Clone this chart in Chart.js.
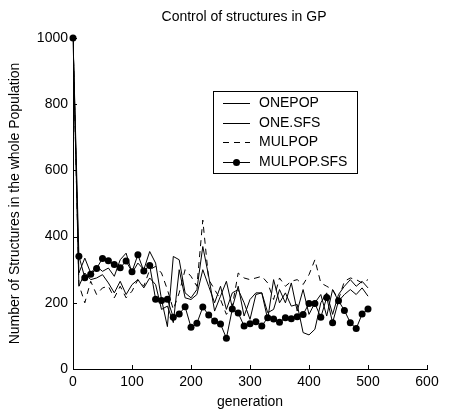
<!DOCTYPE html>
<html>
<head>
<meta charset="utf-8">
<script src="https://cdn.jsdelivr.net/npm/chart.js@4.4.0/dist/chart.umd.min.js"></script>
<style>
html, body { margin: 0; padding: 0; background: #fff; }
</style>
</head>
<body>
<canvas id="myChart1" width="466" height="412"></canvas>
<script>
// generation (x) values, every 10 generations
const generations = [0, 10, 20, 30, 40, 50, 60, 70, 80, 90, 100, 110, 120, 130, 140, 150, 160, 170, 180, 190,
    200, 210, 220, 230, 240, 250, 260, 270, 280, 290, 300, 310, 320, 330, 340, 350, 360, 370, 380, 390,
    400, 410, 420, 430, 440, 450, 460, 470, 480, 490, 500];

const onePop = [1000, 290, 335, 290, 310, 295, 305, 280, 330, 350, 290, 320, 300, 355, 320, 210, 128, 340, 330, 230,
    215, 240, 370, 280, 175, 220, 265, 185, 250, 160, 210, 230, 230, 150, 270, 200, 230, 190, 195, 110,
    103, 120, 200, 230, 165, 225, 250, 270, 250, 265, 245];

const oneSfs = [1000, 250, 290, 270, 275, 285, 260, 230, 265, 225, 255, 270, 245, 275, 255, 180, 190, 140, 300, 215,
    210, 225, 300, 250, 200, 250, 180, 230, 240, 200, 150, 225, 230, 170, 180, 240, 200, 260, 175, 240,
    165, 200, 225, 160, 240, 205, 225, 240, 225, 245, 220];

const mulPop = [1000, 255, 200, 265, 225, 245, 250, 215, 250, 215, 235, 270, 250, 300, 310, 290, 240, 180, 230, 300,
    280, 250, 450, 270, 240, 210, 165, 190, 290, 275, 270, 275, 280, 260, 210, 275, 250, 265, 270, 255,
    285, 330, 260, 250, 240, 210, 265, 275, 270, 260, 270];

const mulPopSfs = [1000, 341, 276, 286, 304, 334, 327, 316, 306, 326, 294, 345, 296, 313, 211, 207, 211, 156, 166, 188,
    126, 138, 187, 163, 145, 136, 93, 181, 169, 130, 137, 143, 130, 155, 151, 141, 155, 152, 158, 165,
    198, 198, 156, 216, 140, 206, 177, 140, 122, 166, 181];

const xTicks = [0, 100, 200, 300, 400, 500, 600];
const yTicks = [0, 200, 400, 600, 800, 1000];

const FONT = 'Arial, "Liberation Sans", Helvetica, sans-serif';

function pts(values) {
    return generations.map((g, i) => ({ x: g, y: values[i] }));
}

// MATLAB style ticks pointing into the plot
const innerTicks = {
    id: 'innerTicks',
    afterDraw(chart) {
        const ctx = chart.ctx;
        const xs = chart.scales.x, ys = chart.scales.y;
        ctx.save();
        ctx.strokeStyle = '#000';
        ctx.lineWidth = 1;
        ctx.beginPath();
        xTicks.forEach(t => {
            const px = Math.round(xs.getPixelForValue(t)) + 0.5;
            ctx.moveTo(px, ys.bottom);
            ctx.lineTo(px, ys.bottom - 4);
        });
        yTicks.forEach(t => {
            const py = Math.round(ys.getPixelForValue(t)) + 0.5;
            ctx.moveTo(xs.left, py);
            ctx.lineTo(xs.left + 4, py);
        });
        ctx.stroke();
        ctx.restore();
    }
};

// title + boxed legend inside the plot
const titleAndLegend = {
    id: 'titleAndLegend',
    afterDraw(chart) {
        const ctx = chart.ctx;
        ctx.save();
        ctx.fillStyle = '#000';
        ctx.font = '14px ' + FONT;
        ctx.textAlign = 'center';
        ctx.textBaseline = 'middle';
        ctx.fillText('Control of structures in GP', 244, 17);

        // legend box
        const bx = 213.5, by = 91.5, bw = 144, bh = 82;
        ctx.fillStyle = '#fff';
        ctx.fillRect(bx, by, bw, bh);
        ctx.strokeStyle = '#000';
        ctx.lineWidth = 1;
        ctx.strokeRect(bx, by, bw, bh);

        const rowY = [103, 122.5, 142, 162];
        chart.data.datasets.forEach((ds, i) => {
            const y = Math.round(rowY[i]) + 0.5;
            ctx.save();
            ctx.strokeStyle = ds.borderColor;
            ctx.lineWidth = 1;
            ctx.setLineDash(ds.borderDash || []);
            ctx.beginPath();
            ctx.moveTo(223, y);
            ctx.lineTo(250, y);
            ctx.stroke();
            ctx.restore();
            if (ds.pointRadius > 0) {
                ctx.beginPath();
                ctx.fillStyle = '#000';
                ctx.arc(236.5, y, ds.pointRadius, 0, Math.PI * 2);
                ctx.fill();
            }
            ctx.fillStyle = '#000';
            ctx.textAlign = 'left';
            ctx.textBaseline = 'middle';
            ctx.fillText(ds.label, 259, y);
        });
        ctx.restore();
    }
};

const ctx = document.getElementById('myChart1').getContext('2d');

const config = {
    type: 'line',
    data: {
        datasets: [{
            label: 'ONEPOP',
            data: pts(onePop),
            borderColor: '#000',
            borderWidth: 1,
            pointRadius: 0,
            tension: 0
        }, {
            label: 'ONE.SFS',
            data: pts(oneSfs),
            borderColor: '#000',
            borderWidth: 1,
            pointRadius: 0,
            tension: 0
        }, {
            label: 'MULPOP',
            data: pts(mulPop),
            borderColor: '#000',
            borderWidth: 1,
            borderDash: [6, 5],
            pointRadius: 0,
            tension: 0
        }, {
            label: 'MULPOP.SFS',
            data: pts(mulPopSfs),
            borderColor: '#000',
            backgroundColor: '#000',
            borderWidth: 1,
            pointRadius: 3.5,
            pointBackgroundColor: '#000',
            pointBorderColor: '#000',
            pointBorderWidth: 0,
            tension: 0,
            clip: false
        }]
    },
    options: {
        responsive: false,
        animation: false,
        devicePixelRatio: 1,
        layout: {
            padding: { top: 38, right: 39, left: 0, bottom: 0 }
        },
        plugins: {
            legend: { display: false },
            title: { display: false },
            tooltip: { enabled: false }
        },
        scales: {
            x: {
                type: 'linear',
                min: 0,
                max: 600,
                afterFit: s => { s.height = 43; },
                grid: { display: false, drawTicks: false },
                border: { display: true, color: '#000', width: 1 },
                ticks: {
                    stepSize: 100,
                    padding: 5,
                    color: '#000',
                    font: { family: FONT, size: 14 },
                    maxRotation: 0,
                    callback: v => String(v)
                },
                title: {
                    display: true,
                    text: 'generation',
                    color: '#000',
                    font: { family: FONT, size: 14 },
                    padding: { top: 0, bottom: 1 }
                }
            },
            y: {
                min: 0,
                max: 1000,
                afterFit: s => { s.width = 73; },
                grid: { display: false, drawTicks: false },
                border: { display: true, color: '#000', width: 1 },
                ticks: {
                    stepSize: 200,
                    padding: 5,
                    color: '#000',
                    font: { family: FONT, size: 14 },
                    callback: v => String(v)
                },
                title: {
                    display: true,
                    text: 'Number of Structures in the whole Population',
                    color: '#000',
                    font: { family: FONT, size: 14 },
                    padding: { top: 7, bottom: 0 }
                }
            }
        }
    },
    plugins: [innerTicks, titleAndLegend]
};

const myChart1 = new Chart(ctx, config);
</script>
</body>
</html>
